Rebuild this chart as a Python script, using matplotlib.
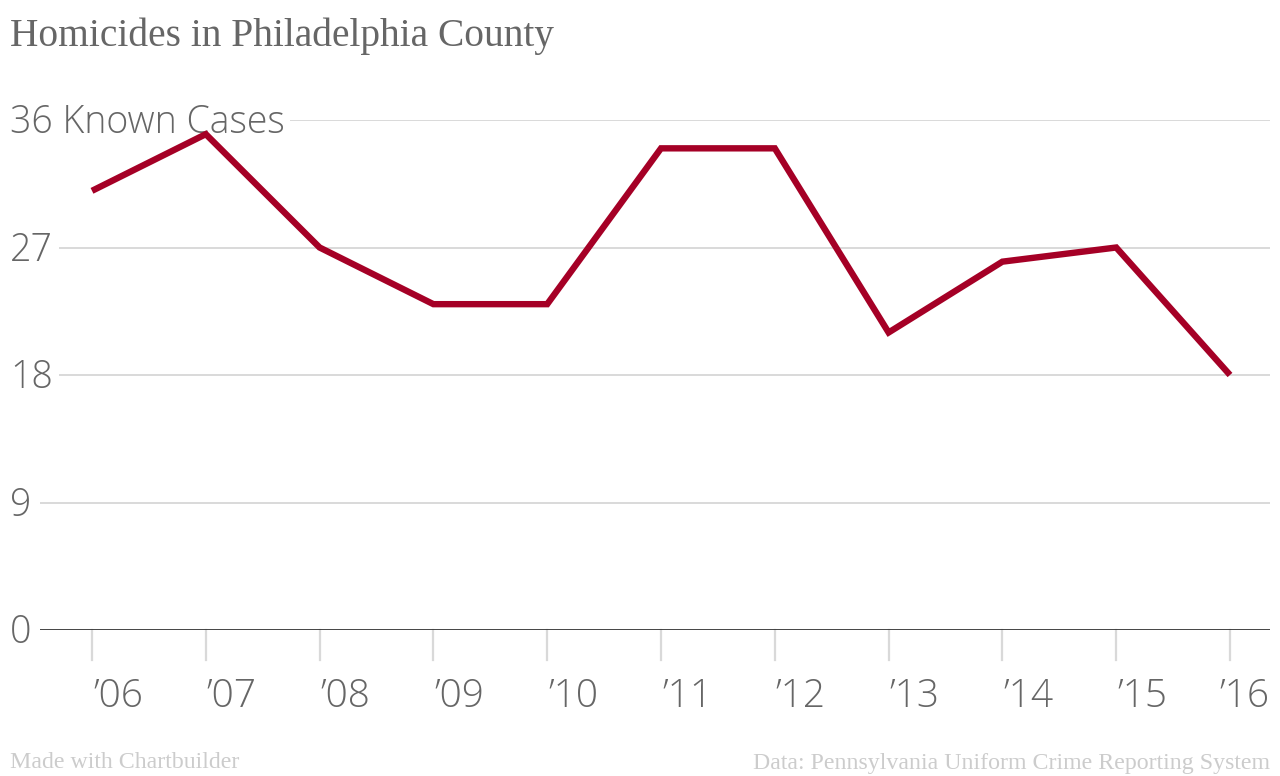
import matplotlib
matplotlib.use("Agg")
import matplotlib.pyplot as plt
from matplotlib.transforms import blended_transform_factory, offset_copy

years = ["’06", "’07", "’08", "’09", "’10", "’11", "’12", "’13", "’14", "’15", "’16"]
homicides = [31, 35, 27, 23, 23, 34, 34, 21, 26, 27, 18]
ytick_vals = [0, 9, 18, 27, 36]
ytick_labels = ["0", "9", "18", "27", "36 Known Cases"]

W, H = 1280, 776
fig = plt.figure(figsize=(W / 100, H / 100), dpi=100)
left, right = 40 / W, 1270 / W
bottom, top = 1 - 630 / H, 1 - 120 / H
ax = fig.add_axes([left, bottom, right - left, top - bottom])

x = list(range(len(years)))
step = (1230 - 92) / 10
ax.set_xlim(-(92 - 40) / step, 10 + (1270 - 1230) / step)
ax.set_ylim(0, 36)

for s in ax.spines.values():
    s.set_visible(False)
ax.set_xticks([])
ax.set_yticks([])

grid_c = "#d9d9d9"
for v in ytick_vals[1:]:
    ax.axhline(v, color=grid_c, lw=1.4, zorder=1)
ax.axhline(0, color="#333333", lw=2, zorder=2)

ax.plot(x, homicides, color="#a50026", lw=4.6, solid_joinstyle="miter",
        solid_capstyle="butt", zorder=4, clip_on=False)

tick_font = dict(family=["Open Sans", "DejaVu Sans"], fontweight="light",
                 color="#666666", fontsize=27)

# y labels
trans_y = offset_copy(blended_transform_factory(fig.transFigure, ax.transData),
                      fig=fig, x=0, y=-3, units="dots")
for v, lab in zip(ytick_vals, ytick_labels):
    ax.text(10 / W, v, lab, transform=trans_y, ha="left", va="center",
            zorder=3, bbox=dict(facecolor="white", edgecolor="none", pad=4),
            **tick_font)

# x tick marks and labels
xfont = dict(tick_font, fontsize=28)
for i, lab in enumerate(years):
    ax.plot([i, i], [0, -30 / 14.17], color=grid_c, lw=1.6, clip_on=False, zorder=1)
    if i == len(years) - 1:
        ax.text(10 + (1270 - 1230) / step, -67 / 14.17, lab, ha="right", va="center", **xfont)
    else:
        ax.text(i + 1 / step, -67 / 14.17, lab, ha="left", va="center", **xfont)

serif = ["Liberation Serif", "DejaVu Serif"]
fig.text(10 / W, 1 - 36 / H, "Homicides in Philadelphia County", family=serif,
         fontsize=28.4, color="#666666", ha="left", va="center")
fig.text(10 / W, 1 - 763 / H, "Made with Chartbuilder", family=serif,
         fontsize=17.2, color="#cccccc", ha="left", va="center")
fig.text(1270 / W, 1 - 763 / H, "Data: Pennsylvania Uniform Crime Reporting System",
         family=serif, fontsize=17.2, color="#cccccc", ha="right", va="center")

fig.savefig("out.png", dpi=100, facecolor="white")
